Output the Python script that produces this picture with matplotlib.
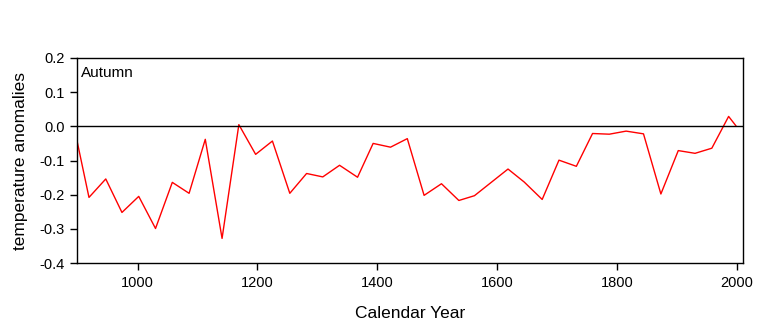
import matplotlib
matplotlib.use("Agg")
import matplotlib.pyplot as plt

years = [899, 919, 947, 974, 1002, 1030, 1058, 1086, 1113, 1141,
         1169, 1197, 1225, 1254, 1282, 1309, 1337, 1367, 1393, 1422,
         1450, 1478, 1507, 1536, 1562, 1590, 1618, 1645, 1675, 1703,
         1732, 1759, 1787, 1815, 1844, 1873, 1902, 1930, 1958, 1986,
         1998]
anomalies = [-0.042, -0.208, -0.154, -0.252, -0.205, -0.299, -0.164, -0.196, -0.038, -0.328,
             0.005, -0.082, -0.043, -0.196, -0.138, -0.148, -0.114, -0.149, -0.050, -0.061,
             -0.036, -0.202, -0.168, -0.217, -0.203, -0.164, -0.125, -0.163, -0.214, -0.099,
             -0.117, -0.021, -0.023, -0.014, -0.022, -0.198, -0.071, -0.079, -0.064, 0.029,
             0.002]
x_ticks = [1000, 1200, 1400, 1600, 1800, 2000]
y_ticks = [-0.4, -0.3, -0.2, -0.1, 0.0, 0.1, 0.2]

plt.rcParams['font.family'] = ['Liberation Sans', 'DejaVu Sans']

fig = plt.figure(figsize=(7.73, 3.31), dpi=100)
ax = fig.add_axes([0.0996, 0.2054, 0.8616, 0.6194])

ax.plot(years, anomalies, color='red', linewidth=1.0)
ax.axhline(0, color='black', linewidth=1.0)

ax.set_xlim(899, 2010)
ax.set_ylim(-0.4, 0.2)
ax.set_xticks(x_ticks)
ax.set_yticks(y_ticks)
ax.set_yticklabels([f'{v:.1f}' for v in y_ticks])
ax.tick_params(direction='out', length=5, width=1, labelsize=10.5, pad=4)
for s in ax.spines.values():
    s.set_linewidth(1.0)

# season label in the top-left corner
ax.text(0.006, 0.96, 'Autumn', transform=ax.transAxes, ha='left', va='top',
        fontsize=11)

ax.set_xlabel('Calendar Year', fontsize=12.5, labelpad=12)
ax.set_ylabel('temperature anomalies', fontsize=12.5, labelpad=8)

fig.savefig('out.png', dpi=100)
